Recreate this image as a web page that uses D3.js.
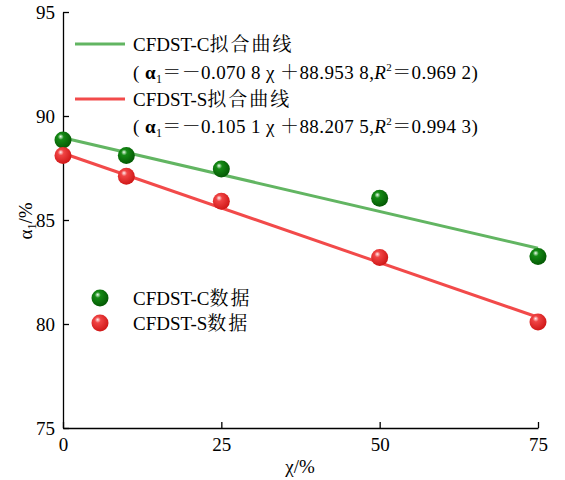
<!DOCTYPE html>
<html><head><meta charset="utf-8">
<script src="https://cdn.jsdelivr.net/npm/d3@7"></script>
<style>body{margin:0;background:#fff}svg{display:block}</style>
</head><body><svg id="c" width="565" height="480"></svg>
<script>
const xValues = [0, 10, 25, 50, 75];
const seriesC = [88.85, 88.1, 87.45, 86.05, 83.25];
const seriesS = [88.1, 87.1, 85.9, 83.2, 80.1];
const fitC = {slope: -0.0708, intercept: 88.9538, r2: "0.969 2"};
const fitS = {slope: -0.1051, intercept: 88.2075, r2: "0.994 3"};
const xTicks = [0, 25, 50, 75];
const yTicks = [75, 80, 85, 90, 95];

const svg = d3.select("#c");
const serif = "'Liberation Serif','Times New Roman',serif";
const cjk = "'Liberation Serif','Noto Serif CJK SC','Noto Sans CJK SC',serif";
const x = d3.scaleLinear().domain([0, 75]).range([63, 538]);
const y = d3.scaleLinear().domain([75, 95]).range([428, 12]);

const defs = svg.append("defs");
function grad(id, light, mid, dark) {
  const g = defs.append("radialGradient").attr("id", id).attr("cx", "40%").attr("cy", "38%").attr("r", "62%").attr("fx", "36%").attr("fy", "30%");
  g.append("stop").attr("offset", "0%").attr("stop-color", light);
  g.append("stop").attr("offset", "28%").attr("stop-color", mid);
  g.append("stop").attr("offset", "100%").attr("stop-color", dark);
}
grad("gG", "#f0fff0", "#158a15", "#045a04");
grad("gR", "#fff0f0", "#f04444", "#d01818");

// axes
const xAxis = d3.axisBottom(x).tickValues(xTicks).tickSizeInner(-6).tickSizeOuter(0).tickPadding(10);
const yAxis = d3.axisLeft(y).tickValues(yTicks).tickSizeInner(-6).tickSizeOuter(0).tickPadding(8);
const gx = svg.append("g").attr("transform", "translate(0,428)").call(xAxis);
const gy = svg.append("g").attr("transform", "translate(63,0)").call(yAxis);
[gx, gy].forEach(g => {
  g.select(".domain").attr("stroke", "#000").attr("stroke-width", 1.3);
  g.selectAll(".tick line").attr("stroke", "#000").attr("stroke-width", 1.3);
  g.selectAll(".tick text").attr("font-family", serif).attr("font-size", 19).attr("fill", "#000");
});
gy.selectAll(".tick text").attr("dy", "0.35em");

// fit lines
function drawFit(f, color) {
  svg.append("line")
    .attr("x1", x(0)).attr("y1", y(f.intercept))
    .attr("x2", x(75)).attr("y2", y(f.intercept + f.slope * 75))
    .attr("stroke", color).attr("stroke-width", 3);
}
drawFit(fitC, "#62b562");
drawFit(fitS, "#f24a4a");

// points
function drawPts(vals, fill) {
  svg.append("g").selectAll("circle").data(vals).join("circle")
    .attr("cx", (d, i) => x(xValues[i])).attr("cy", d => y(d))
    .attr("r", 8.5).attr("fill", fill);
}
drawPts(seriesC, "url(#gG)");
drawPts(seriesS, "url(#gR)");

// legend lines
svg.append("line").attr("x1", 75).attr("x2", 125).attr("y1", 44).attr("y2", 44).attr("stroke", "#62b562").attr("stroke-width", 3);
svg.append("line").attr("x1", 75).attr("x2", 125).attr("y1", 99).attr("y2", 99).attr("stroke", "#f24a4a").attr("stroke-width", 3);

const fmt = v => v.toFixed(4).replace(/(\d{3})(\d)$/, "$1 $2");
function fitText(yy, f) {
  const t = svg.append("text").attr("x", 133).attr("y", yy).attr("font-family", cjk).attr("font-size", 19).attr("letter-spacing", 0.4).attr("fill", "#000");
  t.append("tspan").text("( ");
  t.append("tspan").attr("font-weight", "bold").text("α");
  t.append("tspan").attr("font-size", 12).attr("dy", 4).text("1");
  t.append("tspan").attr("dy", -4).text("＝－" + fmt(-f.slope) + " χ ＋" + fmt(f.intercept) + ",");
  t.append("tspan").attr("font-style", "italic").text("R");
  t.append("tspan").attr("font-size", 11).attr("dy", -8).text("2");
  t.append("tspan").attr("dy", 8).text("＝" + f.r2 + ")");
}
function label(xx, yy, latin, han) {
  const t = svg.append("text").attr("x", xx).attr("y", yy).attr("font-family", cjk).attr("font-size", 19).attr("fill", "#000");
  t.append("tspan").text(latin);
  t.append("tspan").attr("letter-spacing", 2).text(han);
}
label(133, 51, "CFDST-C", "拟合曲线");
fitText(79, fitC);
label(133, 106, "CFDST-S", "拟合曲线");
fitText(133, fitS);

// scatter legend
svg.append("circle").attr("cx", 100).attr("cy", 298).attr("r", 8.5).attr("fill", "url(#gG)");
svg.append("circle").attr("cx", 100).attr("cy", 323).attr("r", 8.5).attr("fill", "url(#gR)");
label(133, 305, "CFDST-C", "数据");
label(133, 330, "CFDST-S", "数据");

// axis titles
const yt = svg.append("text").attr("transform", "translate(32,221) rotate(-90)").attr("text-anchor", "middle").attr("font-family", serif).attr("font-size", 19);
yt.append("tspan").text("α");
yt.append("tspan").attr("font-size", 12).attr("dy", 4).text("1");
yt.append("tspan").attr("dy", -4).text("/%");
svg.append("text").attr("x", 300).attr("y", 473).attr("text-anchor", "middle").attr("font-family", serif).attr("font-size", 19).text("χ/%");
</script></body></html>
